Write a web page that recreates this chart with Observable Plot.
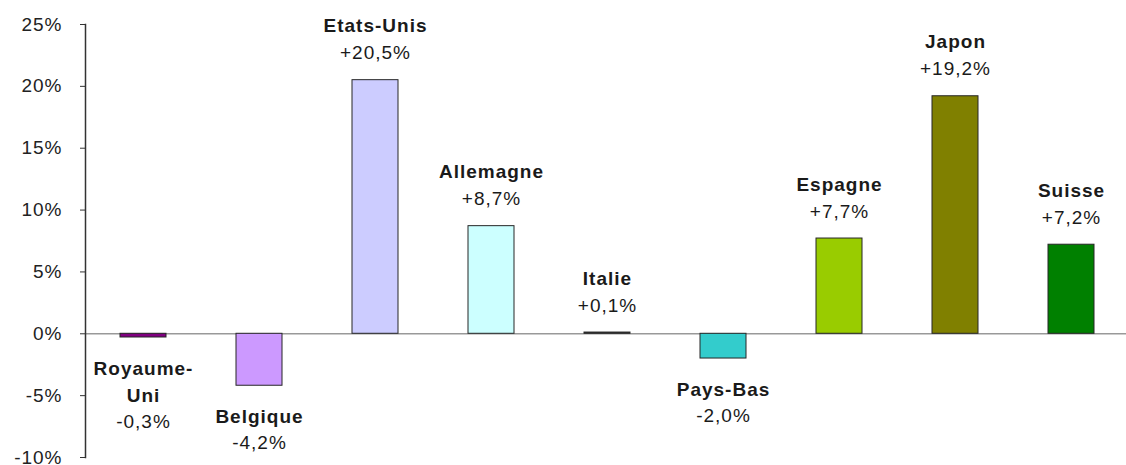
<!DOCTYPE html>
<html>
<head>
<meta charset="utf-8">
<script src="https://cdn.jsdelivr.net/npm/d3@7"></script>
<script src="https://cdn.jsdelivr.net/npm/@observablehq/plot@0.6"></script>
<style>
  html, body { margin: 0; padding: 0; background: #fff; }
  #chart svg text { letter-spacing: 1px; }
</style>
</head>
<body>
<div id="chart"></div>
<script>
const countries = ["Royaume-Uni", "Belgique", "Etats-Unis", "Allemagne", "Italie", "Pays-Bas", "Espagne", "Japon", "Suisse"];
const nameLabels = ["Royaume-\nUni", "Belgique", "Etats-Unis", "Allemagne", "Italie", "Pays-Bas", "Espagne", "Japon", "Suisse"];
const values = [-0.3, -4.2, 20.5, 8.7, 0.1, -2.0, 7.7, 19.2, 7.2];
const colors = ["#800080", "#cc99ff", "#ccccff", "#ccffff", "#333333", "#33cccc", "#99cc00", "#808000", "#008000"];
const yTicks = [-10, -5, 0, 5, 10, 15, 20, 25];

const fmt = v => (v > 0 ? "+" : "") + v.toFixed(1).replace(".", ",") + "%";

const data = countries.map((c, i) => ({
  country: c,
  name: nameLabels[i],
  lines: nameLabels[i].split("\n").length,
  value: values[i],
  color: colors[i],
  label: fmt(values[i])
}));

const pos = data.filter(d => d.value >= 0);
const neg = data.filter(d => d.value < 0);

const font = "'Liberation Sans', Arial, sans-serif";
const txt = "#1a1a1a";

const negValueMarks = [1, 2].map(n =>
  Plot.text(neg.filter(d => d.lines === n), {
    x: "country", y: "value", text: "label",
    lineAnchor: "middle", dy: 57 + (n - 1) * 27,
    fontSize: 19, fill: txt
  })
);

const chart = Plot.plot({
  width: 1126,
  height: 465,
  marginLeft: 85,
  marginRight: 0,
  marginTop: 24,
  marginBottom: 8,
  style: { fontFamily: font, background: "#fff", color: "#222" },
  x: { domain: countries, range: [83.8, 1131.4], paddingInner: 0.6, paddingOuter: 0.3, axis: null },
  y: { domain: [-10, 25], ticks: yTicks, tickFormat: d => d + "%" },
  marks: [
    Plot.ruleY([0], { stroke: "#999", strokeWidth: 1.5 }),
    Plot.barY(data, {
      x: "country", y: "value",
      fill: d => d.color,
      stroke: "#262626", strokeWidth: 1
    }),
    Plot.frame({ anchor: "left", stroke: "#333", strokeWidth: 1.5 }),
    Plot.axisY({
      ticks: yTicks, tickFormat: d => d + "%",
      tickSize: 5, tickPadding: 18, fontSize: 19,
      stroke: "#333", fill: "#222", label: null
    }),
    // positive labels
    Plot.text(pos, {
      x: "country", y: "value", text: "name",
      lineAnchor: "middle", dy: -54,
      fontSize: 19, fontWeight: "bold", fill: txt
    }),
    Plot.text(pos, {
      x: "country", y: "value", text: "label",
      lineAnchor: "middle", dy: -27,
      fontSize: 19, fill: txt
    }),
    // negative labels
    Plot.text(neg, {
      x: "country", y: "value", text: "name",
      lineAnchor: "top", dy: 18, lineHeight: 27 / 19,
      fontSize: 19, fontWeight: "bold", fill: txt
    }),
    ...negValueMarks
  ]
});

document.getElementById("chart").appendChild(chart);
</script>
</body>
</html>
